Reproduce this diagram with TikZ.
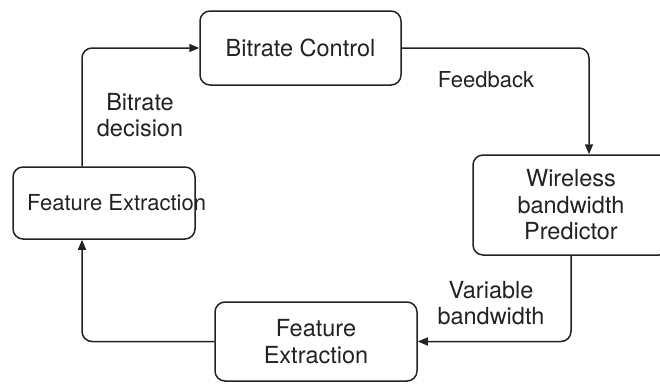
\documentclass[tikz,border=0pt]{standalone}
\usepackage{fontspec}
\setmainfont{TeX Gyre Heros}
\usetikzlibrary{arrows.meta}
\definecolor{ink}{HTML}{222222}
\tikzset{
  box/.style={draw=ink, line width=1.5pt, rounded corners=10pt, align=center,
    text=ink, inner sep=0pt, font=\fontsize{23.5}{26.5}\selectfont},
  flow/.style={draw=ink, line width=1.5pt, rounded corners=10pt,
    -{Triangle[length=10pt,width=8pt]}},
  lbl/.style={text=ink, align=center, inner sep=0pt, font=\fontsize{23.5}{26.5}\selectfont}
}
\begin{document}
\begin{tikzpicture}[x=1pt,y=-1pt]
\useasboundingbox (0,0) rectangle (660,383);
\clip (0,0) rectangle (660,383);

% process boxes
\node[box, minimum width=201pt, minimum height=74pt] (bc) at (300.5,48) {Bitrate Control};
\node[box, minimum width=182pt, minimum height=72pt] (lb) at (104,203) {};
\node[lbl, anchor=west, font=\fontsize{22}{25}\selectfont] (lbt) at (27,203) {Feature Extraction};
\node[box, minimum width=196pt, minimum height=100pt] (wl) at (571,205) {Wireless\\bandwidth\\Predictor};
\node[box, minimum width=202pt, minimum height=79pt] (fe) at (316,341.5) {Feature\\Extraction};

% routing columns
\coordinate (xa) at (82,0);
\coordinate (xb) at (589,0);
\coordinate (xc) at (571,0);

% connectors
\draw[flow] (xa |- lb.north) |- (bc.west);
\draw[flow] (bc.east) -| (xb |- wl.north);
\draw[flow] (xc |- wl.south) |- (fe.east);
\draw[flow] (fe.west) -| (xa |- lb.south);

% connector labels
\node[lbl] (l1) at (140,115) {Bitrate\\decision};
\node[lbl, font=\fontsize{22}{25}\selectfont] (l2) at (486,80) {Feedback};
\node[lbl] (l3) at (491,303) {Variable\\bandwidth};
\end{tikzpicture}
\end{document}
